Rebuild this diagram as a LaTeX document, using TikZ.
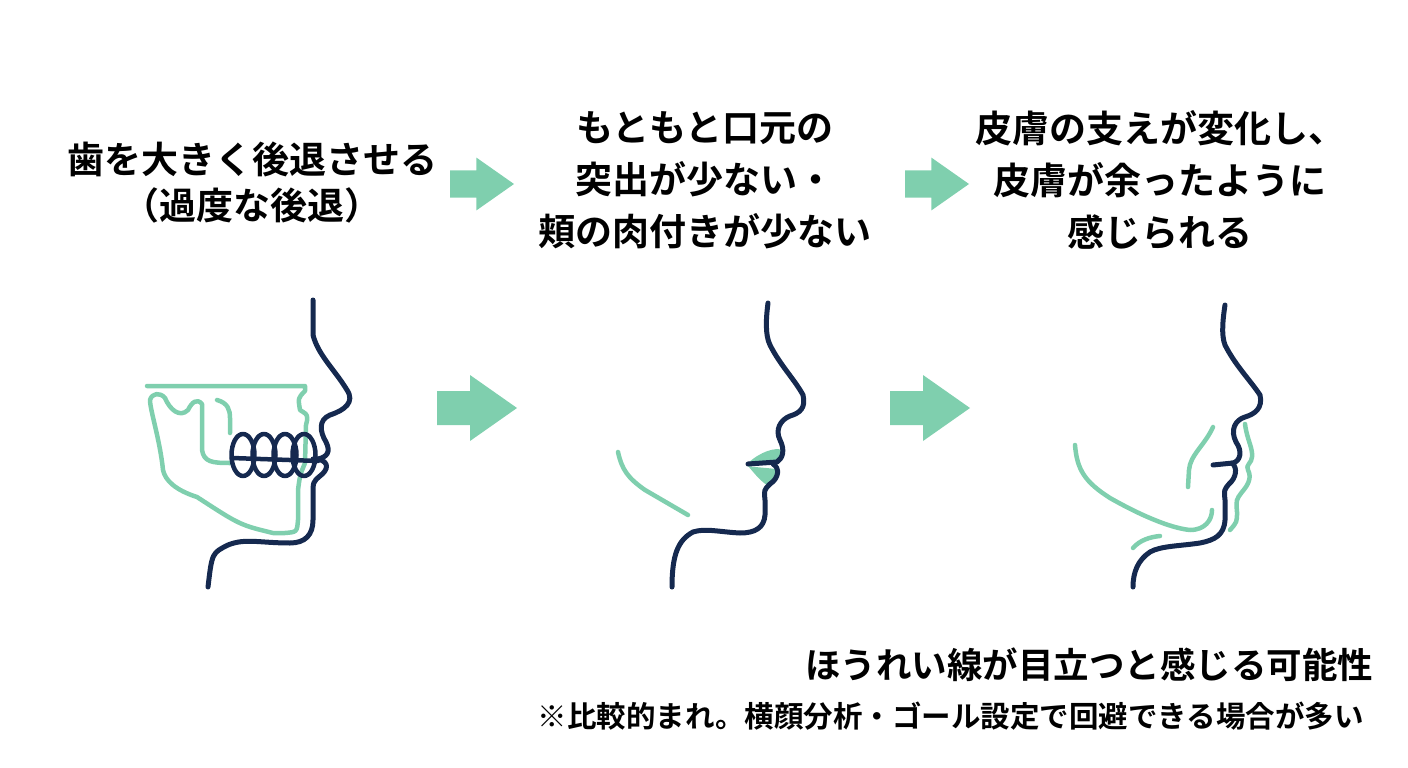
\documentclass[tikz,border=0pt]{standalone}
\usepackage{fontspec}
\newfontfamily\jp{Noto Sans CJK JP Bold}
\definecolor{navy}{HTML}{15294F}
\definecolor{mint}{HTML}{7FCFAE}
\begin{document}
\begin{tikzpicture}[x=1pt,y=-1pt,
  dk/.style={navy,line width=5pt,line cap=round,line join=round},
  gr/.style={mint,line width=4.5pt,line cap=round,line join=round},
  ttl/.style={font=\jp\fontsize{37}{46}\selectfont,align=center,text=black},
  blk/.style={fill=mint,draw=none}]
\useasboundingbox (0,0) rectangle (1408,768);
% titles
\node[ttl] (t1) at (252,183) {歯を大きく後退させる\\（過度な後退）};
\node[ttl,font=\jp\fontsize{37}{52}\selectfont] (t2) at (705,180) {もともと口元の\\突出が少ない・\\頬の肉付きが少ない};
\node[ttl,font=\jp\fontsize{37}{52}\selectfont] (t3) at (1160,180) {皮膚の支えが変化し、\\皮膚が余ったように\\感じられる};
\node[anchor=east,font=\jp\fontsize{35.5}{36}\selectfont] (n1) at (1377,665) {ほうれい線が目立つと感じる可能性};
\node[anchor=east,font=\jp\fontsize{29.5}{30}\selectfont] (n2) at (1367,716) {※比較的まれ。横顔分析・ゴール設定で回避できる場合が多い};
% arrows
\foreach \x/\y/\s in {450/184/0.8, 905/184/0.8, 437/408/1, 890/408/1}{
 \fill[mint] (\x,\y-17*\s) -- (\x+45*\s-12*\s,\y-17*\s) -- (\x+45*\s-12*\s,\y-33*\s) -- (\x+80*\s,\y) -- (\x+45*\s-12*\s,\y+33*\s) -- (\x+45*\s-12*\s,\y+17*\s) -- (\x,\y+17*\s) -- cycle;}
% ---- face 1
\draw[gr] (147,386) -- (305,386) -- (305,391) .. controls (298,398) .. (300,410) .. controls (303,413) and (310,412) .. (306,425) -- (305,463) .. controls (300,475) .. (298,490) -- (298,520) .. controls (297,532) .. (285,533) -- (273,533) .. controls (240,525) .. (197,497) .. controls (175,490) and (165,480) .. (163,470) .. controls (160,440) and (150,410) .. (150,400) .. controls (152,393) and (160,392) .. (165,398) .. controls (170,410) and (180,418) .. (188,410) .. controls (192,402) and (197,398) .. (202,404) -- (202,450) .. controls (204,462) and (212,463) .. (230,463);
\draw[gr] (217,400) .. controls (228,403) and (230,410) .. (230,418) -- (230,433);
\foreach \cx in {243,264,285,304}{\draw[dk,line width=4.5pt] (\cx,455) ellipse (11.5 and 21);}
\draw[dk,line width=4.5pt] (232,458) -- (318,461);
\draw[dk] (313,300) -- (313,335) .. controls (318,355) and (335,370) .. (347,390) .. controls (355,402) and (345,410) .. (330,415) .. controls (318,420) and (320,432) .. (326,442) .. controls (331,452) and (327,457) .. (318,459) -- (313,459);
\draw[dk] (318,459) .. controls (330,462) and (328,470) .. (320,476) .. controls (313,482) .. (313,495) -- (313,520) .. controls (313,535) and (305,543) .. (290,543) .. controls (260,543) and (245,538) .. (228,545) .. controls (212,553) .. (208,587);
% ---- face 2
\fill[mint] (748,463) .. controls (760,452) and (775,447) .. (782,450) .. controls (783,457) .. (778,463) -- cycle;
\fill[mint] (748,466) .. controls (760,468) and (775,468) .. (778,470) .. controls (778,478) and (773,483) .. (768,486) .. controls (760,480) .. (748,466) -- cycle;
\draw[gr] (618,452) .. controls (622,470) and (628,478) .. (645,490) -- (688,515);
\draw[dk] (768,303) .. controls (766,318) and (765,335) .. (770,345) .. controls (780,365) and (795,380) .. (803,395) .. controls (806,408) and (800,413) .. (790,416) .. controls (780,420) and (775,430) .. (780,440) .. controls (785,450) and (783,458) .. (777,462) -- (748,464);
\draw[dk] (773,464) .. controls (780,468) and (779,478) .. (770,484) .. controls (764,490) .. (765,500) -- (765,515) .. controls (764,528) and (755,533) .. (740,533) .. controls (720,532) and (705,528) .. (693,532) .. controls (678,540) and (672,555) .. (672,587);
% ---- face 3
\draw[gr] (1245,424) .. controls (1247,440) and (1253,448) .. (1252,457) .. controls (1252,463) and (1245,465) .. (1248,470) .. controls (1252,478) and (1248,485) .. (1242,492) .. controls (1236,500) .. (1237,512) .. controls (1237,522) .. (1230,530);
\draw[gr] (1213,427) .. controls (1205,445) and (1190,455) .. (1189,470) -- (1188,487);
\draw[gr] (1075,445) .. controls (1077,470) and (1085,482) .. (1110,498) .. controls (1140,515) and (1170,528) .. (1190,530) .. controls (1205,530) and (1212,520) .. (1212,510);
\draw[gr] (1133,548) .. controls (1140,540) and (1150,537) .. (1160,536);
\draw[dk] (1225,305) .. controls (1223,318) and (1221,335) .. (1225,345) .. controls (1235,365) and (1250,380) .. (1260,395) .. controls (1263,408) and (1255,414) .. (1245,417) .. controls (1235,420) and (1230,430) .. (1236,442) .. controls (1243,452) and (1240,461) .. (1233,463) -- (1213,465);
\draw[dk] (1232,463) .. controls (1238,468) and (1236,478) .. (1229,484) .. controls (1224,490) .. (1225,500) -- (1225,520) .. controls (1224,535) and (1215,540) .. (1200,543) .. controls (1180,546) and (1160,546) .. (1150,552) .. controls (1138,560) and (1133,572) .. (1133,587);
\end{tikzpicture}
\end{document}
